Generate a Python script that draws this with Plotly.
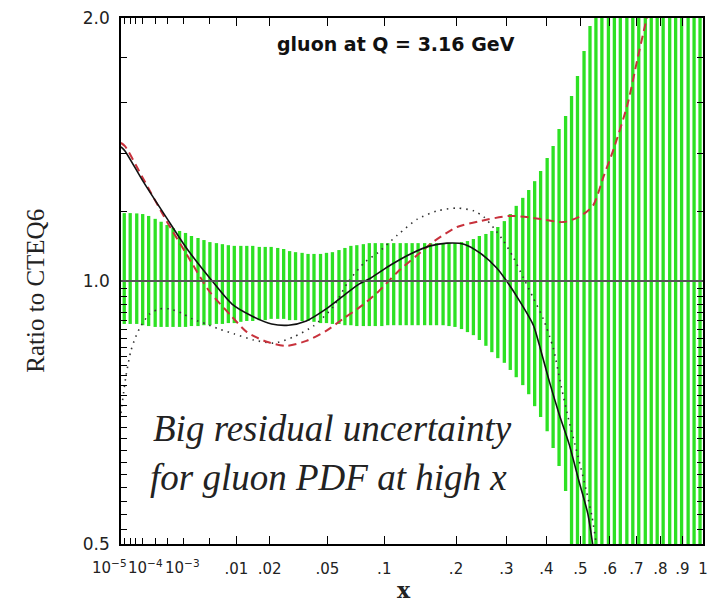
import numpy as np
import plotly.graph_objects as go

# The chart's x axis is a cube-root scale: positions below are given as x^(1/3)
band_xc = [0.027, 0.037, 0.048, 0.058, 0.068, 0.079, 0.089, 0.099, 0.109, 0.120,
           0.130, 0.140, 0.151, 0.161, 0.171, 0.182, 0.192, 0.202, 0.212, 0.223,
           0.233, 0.243, 0.254, 0.264, 0.274, 0.285, 0.295, 0.305, 0.315, 0.326,
           0.336, 0.346, 0.357, 0.367, 0.377, 0.388, 0.398, 0.408, 0.418, 0.429,
           0.439, 0.449, 0.460, 0.470, 0.480, 0.491, 0.501, 0.511, 0.521, 0.532,
           0.542, 0.552, 0.563, 0.573, 0.583, 0.594, 0.604, 0.614, 0.624, 0.635,
           0.645, 0.655, 0.666, 0.676, 0.686, 0.697, 0.707, 0.717, 0.727, 0.738,
           0.748, 0.758, 0.769, 0.779, 0.789, 0.800, 0.810, 0.820, 0.830, 0.841,
           0.851, 0.861, 0.872, 0.882, 0.892, 0.903, 0.913, 0.923, 0.933, 0.944,
           0.954, 0.964, 0.975, 0.985, 0.995]
band_hi = [1.196, 1.196, 1.195, 1.193, 1.187, 1.178, 1.169, 1.159, 1.150, 1.141,
           1.135, 1.126, 1.120, 1.114, 1.108, 1.105, 1.102, 1.099, 1.097, 1.097,
           1.097, 1.097, 1.094, 1.094, 1.094, 1.091, 1.088, 1.082, 1.079, 1.077,
           1.074, 1.074, 1.074, 1.077, 1.079, 1.085, 1.091, 1.097, 1.099, 1.102,
           1.105, 1.105, 1.105, 1.105, 1.105, 1.105, 1.105, 1.105, 1.105, 1.105,
           1.105, 1.105, 1.105, 1.105, 1.105, 1.108, 1.111, 1.117, 1.126, 1.132,
           1.141, 1.153, 1.171, 1.193, 1.219, 1.245, 1.271, 1.301, 1.336, 1.383,
           1.427, 1.493, 1.545, 1.628, 1.717, 1.834, 1.958, 2.5, 2.5, 2.5,
           2.5, 2.5, 2.5, 2.5, 2.5, 2.5, 2.5, 2.5, 2.5, 2.5,
           2.5, 2.5, 2.5, 2.5, 2.5]
band_lo = [0.893, 0.893, 0.893, 0.890, 0.888, 0.886, 0.886, 0.886, 0.886, 0.886,
           0.886, 0.888, 0.888, 0.890, 0.890, 0.893, 0.893, 0.895, 0.895, 0.898,
           0.900, 0.900, 0.902, 0.902, 0.905, 0.905, 0.905, 0.902, 0.902, 0.900,
           0.900, 0.898, 0.895, 0.895, 0.893, 0.893, 0.890, 0.890, 0.888, 0.888,
           0.888, 0.888, 0.888, 0.890, 0.890, 0.890, 0.890, 0.890, 0.890, 0.890,
           0.890, 0.890, 0.890, 0.888, 0.886, 0.881, 0.874, 0.867, 0.856, 0.843,
           0.829, 0.816, 0.806, 0.791, 0.776, 0.760, 0.742, 0.719, 0.699, 0.673,
           0.644, 0.614, 0.575, 0.4, 0.4, 0.4, 0.4, 0.4, 0.4, 0.4,
           0.4, 0.4, 0.4, 0.4, 0.4, 0.4, 0.4, 0.4, 0.4, 0.4,
           0.4, 0.4, 0.4, 0.4, 0.4]

solid_xc = [0.0215, 0.0282, 0.0582, 0.0982, 0.1315, 0.1748, 0.2082, 0.2415, 0.2748, 0.3032,
            0.3332, 0.3665, 0.3948, 0.4198, 0.4415, 0.4748, 0.5082, 0.5415, 0.5698, 0.5982,
            0.6248, 0.6532, 0.6698, 0.6915, 0.7148, 0.7248, 0.7415, 0.7582, 0.7748, 0.7915,
            0.8065, 0.8180]
solid_y = [1.424, 1.409, 1.302, 1.181, 1.091, 1.000, 0.941, 0.912, 0.893, 0.890,
           0.900, 0.929, 0.961, 0.990, 1.008, 1.043, 1.074, 1.097, 1.105, 1.102,
           1.077, 1.035, 1.000, 0.949, 0.890, 0.845, 0.768, 0.704, 0.651, 0.590,
           0.541, 0.480]

dash_xc = [0.0215, 0.0282, 0.0582, 0.0982, 0.1315, 0.1698, 0.2082, 0.2332, 0.2665, 0.2998,
           0.3332, 0.3665, 0.3948, 0.4282, 0.4532, 0.4865, 0.5198, 0.5482, 0.5865, 0.6248,
           0.6748, 0.7148, 0.7648, 0.7915, 0.8148, 0.8332, 0.8498, 0.8732, 0.8898, 0.9032,
           0.9065]
dash_y = [1.439, 1.427, 1.312, 1.171, 1.074, 0.974, 0.910, 0.874, 0.852, 0.843,
          0.854, 0.877, 0.905, 0.939, 0.971, 1.024, 1.071, 1.111, 1.153, 1.171,
          1.187, 1.181, 1.168, 1.184, 1.219, 1.319, 1.416, 1.594, 1.795, 1.969,
          2.010]

dot_xc = [0.0215, 0.0298, 0.0382, 0.0448, 0.0532, 0.0698, 0.0865, 0.1032, 0.1232, 0.1415,
          0.1648, 0.1865, 0.2115, 0.2448, 0.2782, 0.3115, 0.3448, 0.3782, 0.4032, 0.4315,
          0.4532, 0.4865, 0.5198, 0.5532, 0.5865, 0.6148, 0.6315, 0.6482, 0.6648, 0.6815,
          0.6982, 0.7148, 0.7315, 0.7482, 0.7615, 0.7748, 0.7898, 0.8032, 0.8132, 0.8198,
          0.8215]
dot_y = [0.706, 0.778, 0.832, 0.858, 0.884, 0.917, 0.929, 0.929, 0.919, 0.905,
         0.893, 0.881, 0.870, 0.856, 0.849, 0.863, 0.888, 0.934, 0.997, 1.051,
         1.077, 1.129, 1.177, 1.203, 1.212, 1.203, 1.184, 1.150, 1.111, 1.063,
         1.008, 0.956, 0.905, 0.838, 0.758, 0.691, 0.630, 0.578, 0.538, 0.504,
         0.490]

xtick_vals = [0.01, 0.02, 0.05, 0.1, 0.2, 0.3, 0.4, 0.5, 0.6, 0.7, 0.8, 0.9, 1.0]
xtick_text = [".01", ".02", ".05", ".1", ".2", ".3", ".4", ".5", ".6", ".7", ".8", ".9", "1"]
pow_vals = [1e-5, 1e-4, 1e-3]
pow_text = ["10<sup>−5</sup>", "10<sup>−4</sup>", "10<sup>−3</sup>"]
pow_shift = [-12, 10, 15]
xminor_vals = [1e-5, 2e-5, 5e-5, 1e-4, 2e-4, 5e-4, 1e-3, 2e-3, 5e-3]

ytick_vals = [0.5, 1.0, 2.0]
ytick_text = ["0.5", "1.0", "2.0"]
yminor_vals = [0.52, 0.54, 0.56, 0.58, 0.60, 0.62, 0.64, 0.66, 0.68, 0.70, 0.72, 0.74,
               0.76, 0.78, 0.80, 0.82, 0.84, 0.86, 0.88, 0.90, 0.92, 0.94, 0.96, 0.98,
               1.2, 1.4, 1.6, 1.8]

GREEN = "rgb(45,225,35)"
TICKFONT = dict(family="DejaVu Sans", size=15, color="#222")

fig = go.Figure()

# uncertainty band drawn as vertical bars
bx, by = [], []
for xc, lo, hi in zip(band_xc, band_lo, band_hi):
    bx += [xc, xc, None]
    by += [lo, hi, None]
fig.add_trace(go.Scatter(x=bx, y=by, mode="lines",
                         line=dict(color=GREEN, width=3.3),
                         hoverinfo="skip", showlegend=False))

fig.add_hline(y=1.0, line=dict(color="#555", width=2))

fig.add_trace(go.Scatter(x=dot_xc, y=dot_y, mode="lines",
                         line=dict(color="#333", width=1.6, dash="1.5px,5px",
                                   shape="spline", smoothing=0.7),
                         showlegend=False))
fig.add_trace(go.Scatter(x=dash_xc, y=dash_y, mode="lines",
                         line=dict(color="#c8323c", width=2, dash="8px,5px",
                                   shape="spline", smoothing=0.7),
                         showlegend=False))
fig.add_trace(go.Scatter(x=solid_xc, y=solid_y, mode="lines",
                         line=dict(color="#111", width=1.6,
                                   shape="spline", smoothing=0.7),
                         showlegend=False))

fig.update_layout(
    width=713, height=604,
    margin=dict(l=121, r=5, t=18, b=60),
    paper_bgcolor="white", plot_bgcolor="white",
    showlegend=False,
    xaxis=dict(
        range=[float(np.cbrt(1e-5)), 1.0],
        tickmode="array",
        tickvals=list(np.cbrt(xtick_vals)),
        ticktext=xtick_text,
        ticks="inside", ticklen=8, tickwidth=1.3, tickcolor="black",
        showline=True, linecolor="black", linewidth=1.5, mirror="ticks",
        showgrid=False, zeroline=False,
        tickfont=TICKFONT, ticklabelstandoff=10,
        minor=dict(tickvals=list(np.cbrt(xminor_vals)), ticks="inside",
                   ticklen=6, tickcolor="black", tickwidth=1, showgrid=False),
    ),
    yaxis=dict(
        type="log",
        range=[np.log10(0.5), np.log10(2.0)],
        tickmode="array",
        tickvals=ytick_vals, ticktext=ytick_text,
        ticks="inside", ticklen=8, tickwidth=1.3, tickcolor="black",
        showline=True, linecolor="black", linewidth=1.5, mirror="ticks",
        showgrid=False, zeroline=False,
        tickfont=dict(family="DejaVu Sans", size=17, color="#222"),
        ticklabelstandoff=6,
        minor=dict(tickvals=yminor_vals, ticks="inside", ticklen=6,
                   tickcolor="black", tickwidth=1, showgrid=False),
    ),
)

annotations = []
for v, t, s in zip(pow_vals, pow_text, pow_shift):
    annotations.append(dict(x=float(np.cbrt(v)), y=0, xref="x", yref="paper",
                            text=t, showarrow=False, xanchor="center", yanchor="top",
                            xshift=s, yshift=-11, font=TICKFONT))
annotations += [
    dict(x=0.487, y=-0.088, xref="paper", yref="paper", text="<b>x</b>",
         showarrow=False, xanchor="center", yanchor="middle",
         font=dict(family="DejaVu Serif", size=22, color="#222")),
    dict(x=-0.1465, y=0.481, xref="paper", yref="paper", text="Ratio to CTEQ6",
         textangle=-90, showarrow=False, xanchor="center", yanchor="middle",
         font=dict(family="Liberation Serif", size=25, color="#222")),
    dict(x=0.472, y=0.95, xref="paper", yref="paper", text="<b>gluon at Q = 3.16 GeV</b>",
         showarrow=False, xanchor="center", yanchor="middle",
         font=dict(family="DejaVu Sans", size=19, color="#111")),
    dict(x=0.052, y=0.2205, xref="paper", yref="paper", text="<i>Big residual uncertainty</i>",
         showarrow=False, xanchor="left", yanchor="middle",
         font=dict(family="Liberation Serif", size=37, color="#222")),
    dict(x=0.046, y=0.1255, xref="paper", yref="paper", text="<i>for gluon PDF at high x</i>",
         showarrow=False, xanchor="left", yanchor="middle",
         font=dict(family="Liberation Serif", size=37, color="#222")),
]
fig.update_layout(annotations=annotations)

fig.write_html("out.html")
